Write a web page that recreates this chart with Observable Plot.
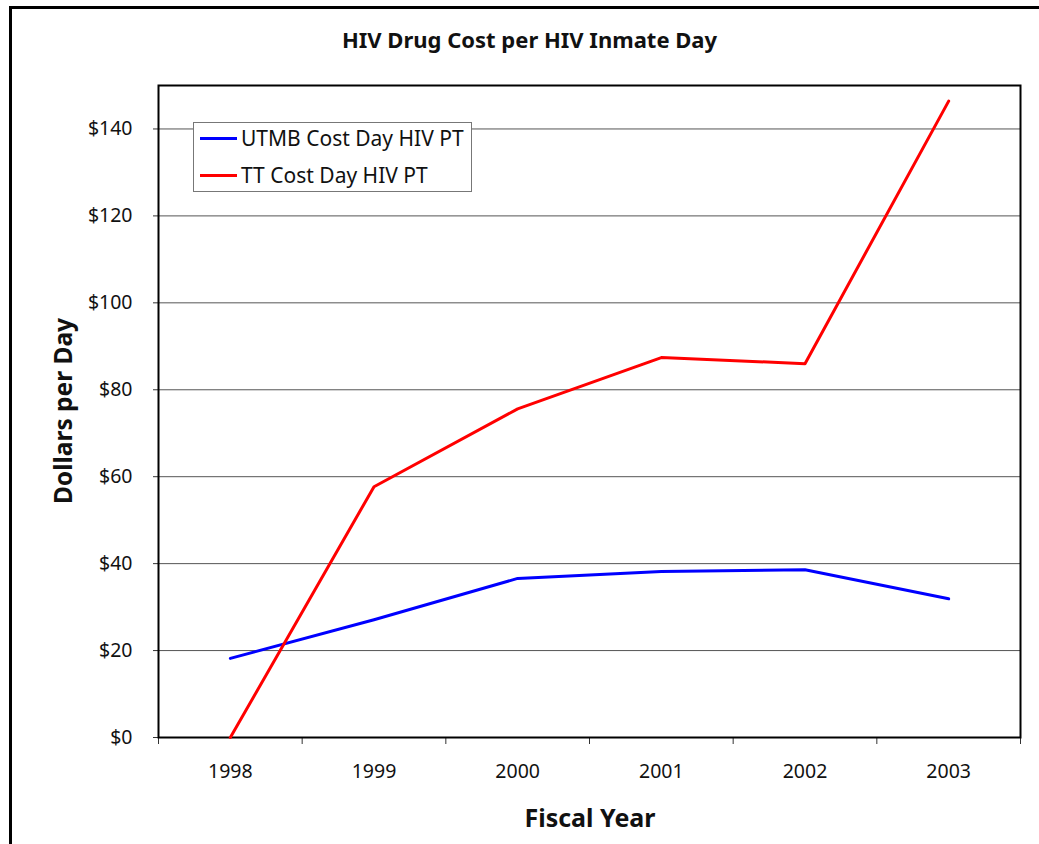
<!DOCTYPE html>
<html>
<head>
<meta charset="utf-8">
<script src="https://cdn.jsdelivr.net/npm/d3@7"></script>
<script src="https://cdn.jsdelivr.net/npm/@observablehq/plot@0.6"></script>
<style>
  body { margin: 0; background: #fff; font-family: "Noto Sans", sans-serif; }
  #wrap { position: relative; width: 1039px; height: 844px; overflow: hidden; background: #fff; }
  #border { position: absolute; left: 9px; top: 6px; width: 1100px; height: 900px; border-left: 3px solid #000; border-top: 3px solid #000; }
  #title { position: absolute; left: 0; width: 1059px; top: 24px; text-align: center; font-size: 22px; font-weight: bold; color: #111; }
  #chart { position: absolute; left: 0; top: 0; }
  #legend { position: absolute; left: 193px; top: 122px; width: 277px; height: 68px; border: 1px solid #777; background: #fff; }
  .item { position: absolute; left: 6px; display: flex; align-items: center; font-size: 21px; color: #111; }
  .sw { width: 37px; height: 3px; margin-right: 4px; }
  #ylab { position: absolute; left: 62px; top: 411px; transform: translate(-50%, -50%) rotate(-90deg); font-size: 24.5px; font-weight: bold; white-space: nowrap; color: #111; }
  #xlab { position: absolute; left: 590px; top: 817px; transform: translate(-50%, -50%); font-size: 25px; font-weight: bold; color: #111; }
</style>
</head>
<body>
<div id="wrap">
  <div id="border"></div>
  <div id="chart"></div>
  <div id="title">HIV Drug Cost per HIV Inmate Day</div>
  <div id="ylab">Dollars per Day</div>
  <div id="xlab">Fiscal Year</div>
  <div id="legend"></div>
</div>
<script>
const years = [1998, 1999, 2000, 2001, 2002, 2003];
const utmb = [18.2, 27.1, 36.6, 38.2, 38.6, 31.9];
const tt = [0, 57.7, 75.6, 87.4, 86.0, 146.4];
const seriesNames = ["UTMB Cost Day HIV PT", "TT Cost Day HIV PT"];
const seriesColors = ["#0000ff", "#ff0000"];
const yTicks = [0, 20, 40, 60, 80, 100, 120, 140];

const rows = [];
years.forEach((y, i) => {
  rows.push({year: y, value: utmb[i], series: seriesNames[0]});
  rows.push({year: y, value: tt[i], series: seriesNames[1]});
});
const boundaries = d3.range(years[0] - 0.5, years[years.length - 1] + 1, 1);

const plot = Plot.plot({
  width: 1039,
  height: 844,
  marginLeft: 158,
  marginRight: 19,
  marginTop: 85,
  marginBottom: 107,
  style: {fontFamily: "Noto Sans, sans-serif", fontSize: "19px", color: "#111", background: "transparent"},
  x: {domain: [years[0] - 0.5, years[years.length - 1] + 0.5]},
  y: {domain: [0, 150]},
  color: {domain: seriesNames, range: seriesColors},
  marks: [
    Plot.gridY(yTicks.slice(1), {stroke: "#555", strokeOpacity: 1, strokeWidth: 1}),
    Plot.axisY(yTicks, {tickSize: 5, tickPadding: 21, tickFormat: d => "$" + d, label: null, stroke: "#333", fontSize: 19.5}),
    Plot.axisX(boundaries, {tickSize: 7, tickFormat: () => "", label: null, stroke: "#333"}),
    Plot.axisX(years, {tickSize: 0, tickPadding: 27, tickFormat: d => String(d), label: null, fontSize: 19.5}),
    Plot.frame({stroke: "#000", strokeWidth: 2}),
    Plot.line(rows, {x: "year", y: "value", z: "series", stroke: "series", strokeWidth: 3})
  ]
});
document.getElementById("chart").appendChild(plot);

const legend = document.getElementById("legend");
seriesNames.forEach((name, i) => {
  const item = document.createElement("div");
  item.className = "item";
  item.style.top = (i === 0 ? 1 : 38) + "px";
  item.innerHTML = `<span class="sw" style="background:${seriesColors[i]}"></span><span>${name}</span>`;
  legend.appendChild(item);
});
</script>
</body>
</html>
